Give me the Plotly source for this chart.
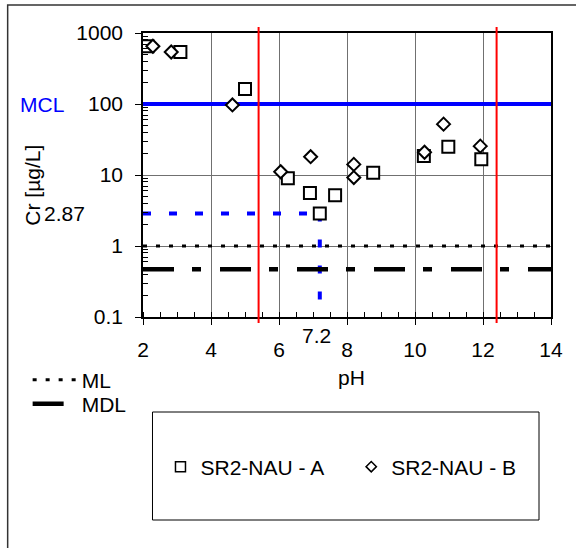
import plotly.graph_objects as go

# ---- data ----
ph_a = [2.13, 3.1, 5.0, 6.26, 6.91, 7.2, 7.65, 8.77, 10.26, 10.98, 11.95]
cr_a = [650, 540, 163, 9.0, 5.6, 2.87, 5.2, 10.8, 18.5, 25, 16.6]
ph_b = [2.29, 2.83, 4.63, 6.05, 6.93, 8.2, 8.2, 10.28, 10.84, 11.92]
cr_b = [650, 540, 97, 11.1, 18.1, 14.1, 9.2, 20.9, 52, 25.5]
name_a = "SR2-NAU - A"
name_b = "SR2-NAU - B"

mcl = 100
ml = 1
mdl = 0.47
ph_limits = [5.4, 12.4]
cr_point = 2.87
ph_point = 7.2
x_range = [2, 14]
x_ticks = [2, 4, 6, 8, 10, 12, 14]
y_ticks = [0.1, 1, 10, 100, 1000]
y_ticktext = ["0.1", "1", "10", "100", "1000"]

# ---- layout geometry (px) ----
W, H = 576, 548
L, R, T, B = 142.5, 551, 33, 317
PW, PH = R - L, B - T


def px(x):
    return (x - L) / PW


def py(y):
    return (B - y) / PH


FONT = "Liberation Sans, Arial, sans-serif"
FS = 21

fig = go.Figure()

# reference lines (traces so markers sit on top)
fig.add_trace(go.Scatter(x=x_range, y=[mcl, mcl], mode="lines",
                         line=dict(color="#0000FF", width=4), showlegend=False, hoverinfo="skip"))
fig.add_trace(go.Scatter(x=[x_range[0], ph_point], y=[cr_point, cr_point], mode="lines",
                         line=dict(color="#0000FF", width=4, dash="8px,18px"),
                         showlegend=False, hoverinfo="skip"))
fig.add_trace(go.Scatter(x=[ph_point, ph_point], y=[cr_point, 0.1], mode="lines",
                         line=dict(color="#0000FF", width=4, dash="8px,18px"),
                         showlegend=False, hoverinfo="skip"))
fig.add_trace(go.Scatter(x=x_range, y=[ml, ml], mode="lines", name="ML",
                         line=dict(color="black", width=3, dash="4px,9px"),
                         legend="legend2", hoverinfo="skip"))
fig.add_trace(go.Scatter(x=x_range, y=[mdl, mdl], mode="lines", name="MDL",
                         line=dict(color="black", width=4.5, dash="31px,18px,9px,19px"),
                         legend="legend3", hoverinfo="skip"))

# data
fig.add_trace(go.Scatter(x=ph_a, y=cr_a, mode="markers", name=name_a, showlegend=False,
                         marker=dict(symbol="square", size=12, color="white",
                                     line=dict(color="black", width=2))))
fig.add_trace(go.Scatter(x=ph_b, y=cr_b, mode="markers", name=name_b, showlegend=False,
                         marker=dict(symbol="diamond", size=10, color="white",
                                     line=dict(color="black", width=2))))

# legend-only entries
fig.add_trace(go.Scatter(x=[None], y=[None], mode="markers", name=name_a, legend="legend",
                         marker=dict(symbol="square", size=10, color="white",
                                     line=dict(color="black", width=1.5))))
fig.add_trace(go.Scatter(x=[None], y=[None], mode="markers", name=name_b, legend="legend4",
                         marker=dict(symbol="diamond", size=8, color="white",
                                     line=dict(color="black", width=1.5))))

shapes = []
for xv in ph_limits:
    shapes.append(dict(type="line", xref="x", yref="paper", x0=xv, x1=xv,
                       y0=py(323), y1=py(27), line=dict(color="#FF0000", width=2), layer="above"))
# legend box
shapes.append(dict(type="rect", xref="paper", yref="paper", x0=px(152), x1=px(539),
                   y0=py(520), y1=py(412), line=dict(color="black", width=1)))
# outer frame
shapes.append(dict(type="rect", xref="paper", yref="paper", x0=px(7), x1=px(600),
                   y0=py(580), y1=py(5), line=dict(color="#333333", width=1.5)))


def ann(text, x, y, color="black", angle=0):
    return dict(text=text, x=px(x), y=py(y), xref="paper", yref="paper", showarrow=False,
                xanchor="center", yanchor="middle", textangle=angle,
                font=dict(color=color, size=FS, family=FONT))


annotations = [
    ann("MCL", 41, 104, color="#0000FF"),
    ann("2.87", 64, 214),
    ann("7.2", 316, 335),
    ann("pH", 351, 377),
    ann("Cr [µg/L]", 31, 185, angle=-90),
]

leg_common = dict(bgcolor="rgba(0,0,0,0)", borderwidth=0, font=dict(size=FS, family=FONT),
                  xanchor="left", yanchor="middle", orientation="v")

fig.update_layout(
    width=W, height=H,
    margin=dict(l=L, r=W - R, t=T, b=H - B, pad=0),
    plot_bgcolor="white", paper_bgcolor="white",
    font=dict(family=FONT, size=FS, color="black"),
    shapes=shapes, annotations=annotations,
    legend=dict(x=px(160), y=py(467), itemwidth=30, **leg_common),
    legend4=dict(x=px(351), y=py(467), itemwidth=30, **leg_common),
    legend2=dict(x=px(27), y=py(380), itemwidth=44, **leg_common),
    legend3=dict(x=px(27), y=py(404), itemwidth=44, **leg_common),
    xaxis=dict(range=x_range, tickvals=x_ticks, ticks="outside", ticklen=6, tickcolor="black",
               showline=True, linecolor="black", linewidth=1.5, mirror=True,
               showgrid=True, gridcolor="#707070", gridwidth=1, zeroline=False,
               ticklabelstandoff=7,
               minor=dict(dtick=0.5, ticks="inside", ticklen=5, tickcolor="black", showgrid=False)),
    yaxis=dict(type="log", range=[-1, 3], tickvals=y_ticks, ticktext=y_ticktext,
               ticks="outside", ticklen=6, tickcolor="black",
               showline=True, linecolor="black", linewidth=1.5, mirror=True,
               showgrid=True, gridcolor="#707070", gridwidth=1, zeroline=False,
               ticklabelstandoff=8,
               minor=dict(tickvals=[m * 10 ** e for e in [-1, 0, 1, 2] for m in range(2, 10)],
                          ticks="inside", ticklen=5, tickcolor="black", showgrid=False)),
)

fig.write_html("out.html", config={"displayModeBar": False},
               post_script="document.body.style.margin='0';document.body.style.padding='0';")
